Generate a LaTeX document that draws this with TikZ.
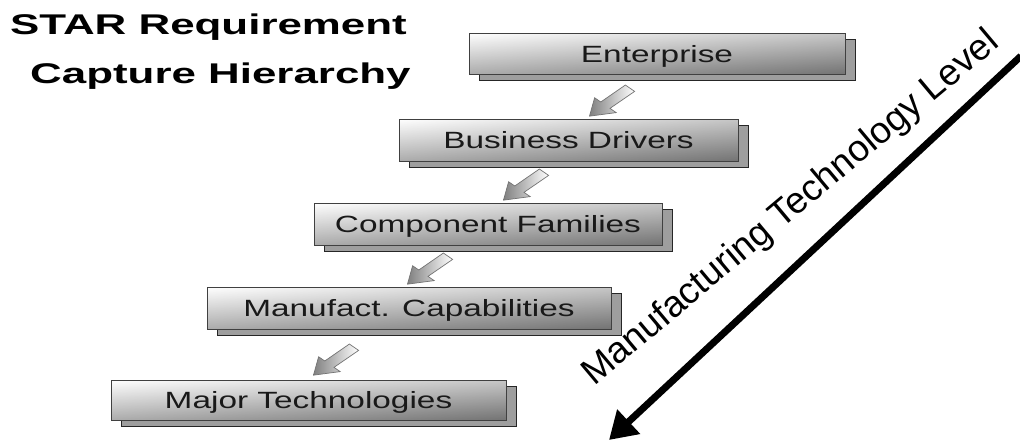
\documentclass[tikz,border=0pt]{standalone}
\usepackage{fontspec}
\setmainfont{Liberation Sans}
\usepackage{graphicx}
\usetikzlibrary{arrows.meta,shadows}
\newcommand{\hstretch}[2]{\scalebox{#1}[1]{#2}}
\tikzset{
  stepbox/.style={draw=black!75, line width=0.9pt, top color=white, bottom color=black!42,
    inner sep=0pt, text height=17pt, text depth=0pt, text=black!90,
    font=\fontsize{23.5}{24}\selectfont,
    copy shadow={shadow xshift=10pt, shadow yshift=-6pt, fill=black!38, draw=black!85, line width=0.9pt},
    path picture={\shade[left color=white, right color=black, opacity=0.22]
      (path picture bounding box.south west) rectangle (path picture bounding box.north east);}},
  titletext/.style={anchor=base west, inner sep=0pt, font=\fontsize{28.5}{30}\selectfont\bfseries},
  bigarrow/.style={line width=7pt, -{Triangle[length=27pt,width=32pt]}},
  sarrow/.pic={
    \shade[draw=black!55, line width=0.7pt, left color=black!50, right color=white]
      (20,0) -- (4.5,10.5) -- (4.5,4.5) -- (-19.5,4.5) -- (-19.5,-4.5) -- (4.5,-4.5) -- (4.5,-10.5) -- cycle;
  }
}
\begin{document}
\begin{tikzpicture}[x=1pt,y=-1pt]
\useasboundingbox (0,0) rectangle (1020,442);
\fill[white] (0,0) rectangle (1020,442);

% title
\node[titletext] (t1) at (10,34) {\hstretch{1.54}{STAR Requirement}};
\node[titletext] (t2) at (30,83) {\hstretch{1.54}{Capture Hierarchy}};

% boxes
\node[stepbox, minimum width=376pt, minimum height=41pt] (ent) at (657,53.5) {\hstretch{1.42}{Enterprise}};
\node[stepbox, minimum width=339pt, minimum height=42pt] (bd) at (568.5,140) {\hstretch{1.42}{Business Drivers}};
\node[stepbox, minimum width=348pt, minimum height=42pt] (cf) at (488,224) {\hstretch{1.42}{Component Families}};
\node[stepbox, minimum width=404pt, minimum height=42pt] (mc) at (409,308) {\hstretch{1.42}{Manufact. Capabilities}};
\node[stepbox, minimum width=395pt, minimum height=40pt] (mt) at (308.5,400) {\hstretch{1.42}{Major Technologies}};

% small block arrows
\pic (a1) [xscale=1.45, rotate=225] at (610,102) {sarrow};
\pic (a2) [xscale=1.45, rotate=225] at (524,186) {sarrow};
\pic (a3) [xscale=1.45, rotate=225] at (428,270) {sarrow};
\pic (a4) [xscale=1.45, rotate=225] at (334,361) {sarrow};

% big arrow
\coordinate (mtop) at (1021,56);
\coordinate (mtip) at (609,440);
\draw[bigarrow] (mtop) -- (mtip);

% diagonal label
\node[anchor=base, inner sep=0pt, rotate=40, font=\fontsize{37}{38}\selectfont] (mtl) at (797.5,216) {Manufacturing Technology Level};
\end{tikzpicture}
\end{document}
